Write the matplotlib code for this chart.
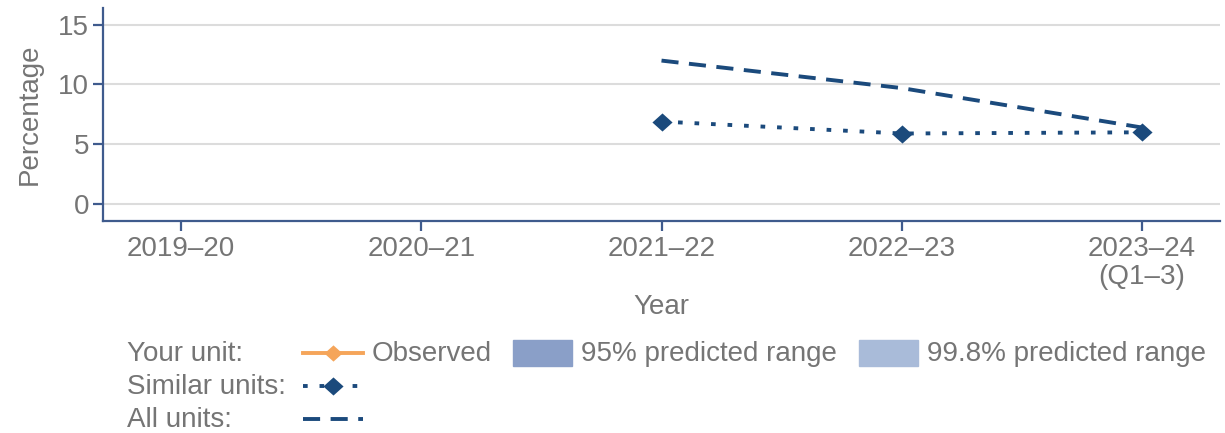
import matplotlib
matplotlib.use("Agg")
import matplotlib.pyplot as plt
from matplotlib.lines import Line2D
from matplotlib.patches import Rectangle

plt.rcParams['font.family'] = ['Liberation Sans', 'DejaVu Sans']

years = ["2019\u201320", "2020\u201321", "2021\u201322", "2022\u201323", "2023\u201324\n(Q1\u20133)"]
similar_x = [2, 3, 4]
similar_vals = [6.9, 5.9, 6.0]
all_x = [2, 3, 4]
all_vals = [12.0, 9.7, 6.4]
yticks = [0, 5, 10, 15]

navy = "#1b4a7c"
spine_c = "#3f5b8d"
text_c = "#757575"
grid_c = "#dcdcdc"
orange = "#f5a55a"
c95 = "#8a9fc8"
c998 = "#a9bbd9"
FS = 20
LW = 2.8
DASH = (4.4, 2.7)
DOT = (1.2, 3.05)
diamond = [(-1, 0), (0, 0.9), (1, 0), (0, -0.9), (-1, 0)]

fig = plt.figure(figsize=(12.25, 4.33), dpi=100)
ax = fig.add_axes([103/1225, 1-221/433, (1220-103)/1225, (221-8)/433])

ax.plot(all_x, all_vals, color=navy, lw=LW, dashes=DASH)
ax.plot(similar_x, similar_vals, color=navy, lw=LW, dashes=DOT,
        marker=diamond, markersize=14.5, markeredgewidth=0)

ax.set_xlim(-0.325, 4.325)
ax.set_ylim(-1.42, 16.4)
ax.set_xticks(range(len(years)))
ax.set_xticklabels(years, linespacing=1.07)
ax.set_yticks(yticks)
ax.grid(axis='y', color=grid_c, lw=1.5)
ax.set_axisbelow(True)
for s in ['top', 'right']:
    ax.spines[s].set_visible(False)
for s in ['left', 'bottom']:
    ax.spines[s].set_color(spine_c)
    ax.spines[s].set_linewidth(1.6)
ax.tick_params(axis='both', colors=spine_c, labelcolor=text_c, labelsize=FS,
               length=7, width=1.6)
ax.tick_params(axis='y', pad=3)
ax.tick_params(axis='x', pad=4)
ax.set_xlabel("Year", fontsize=FS, color=text_c, labelpad=3)
ax.set_ylabel("Percentage", fontsize=FS, color=text_c, labelpad=11)

# Legend (manual, figure coordinates)
W, H = 1225, 433
def fx(px): return px / W
def fy(py): return 1 - py / H

rows = [354, 387, 420]
labels = ["Your unit:", "Similar units:", "All units:"]
for r, lab in zip(rows, labels):
    fig.text(fx(127), fy(r), lab, fontsize=FS, color=text_c, va='center', ha='left')

fig.add_artist(Line2D([fx(303), fx(363)], [fy(353)] * 2, color=orange, lw=2.8,
                      transform=fig.transFigure))
fig.add_artist(Line2D([fx(333)], [fy(353)], color=orange, marker=diamond, markersize=13,
                      markeredgewidth=0, transform=fig.transFigure))
fig.text(fx(372), fy(354), "Observed", fontsize=FS, color=text_c, va='center')

fig.add_artist(Rectangle((fx(513), fy(366)), fx(59), 26 / H, color=c95,
                         transform=fig.transFigure))
fig.text(fx(581), fy(354), "95% predicted range", fontsize=FS, color=text_c, va='center')
fig.add_artist(Rectangle((fx(859), fy(366)), fx(59), 26 / H, color=c998,
                         transform=fig.transFigure))
fig.text(fx(927), fy(354), "99.8% predicted range", fontsize=FS, color=text_c, va='center')

fig.add_artist(Line2D([fx(303), fx(361)], [fy(386)] * 2, color=navy, lw=LW,
                      dashes=DOT, transform=fig.transFigure))
fig.add_artist(Line2D([fx(333)], [fy(386)], color=navy, marker=diamond, markersize=14.5,
                      markeredgewidth=0, transform=fig.transFigure))
fig.add_artist(Line2D([fx(303), fx(363)], [fy(419)] * 2, color=navy, lw=LW,
                      dashes=DASH, transform=fig.transFigure))

fig.savefig("out.png", dpi=100)
